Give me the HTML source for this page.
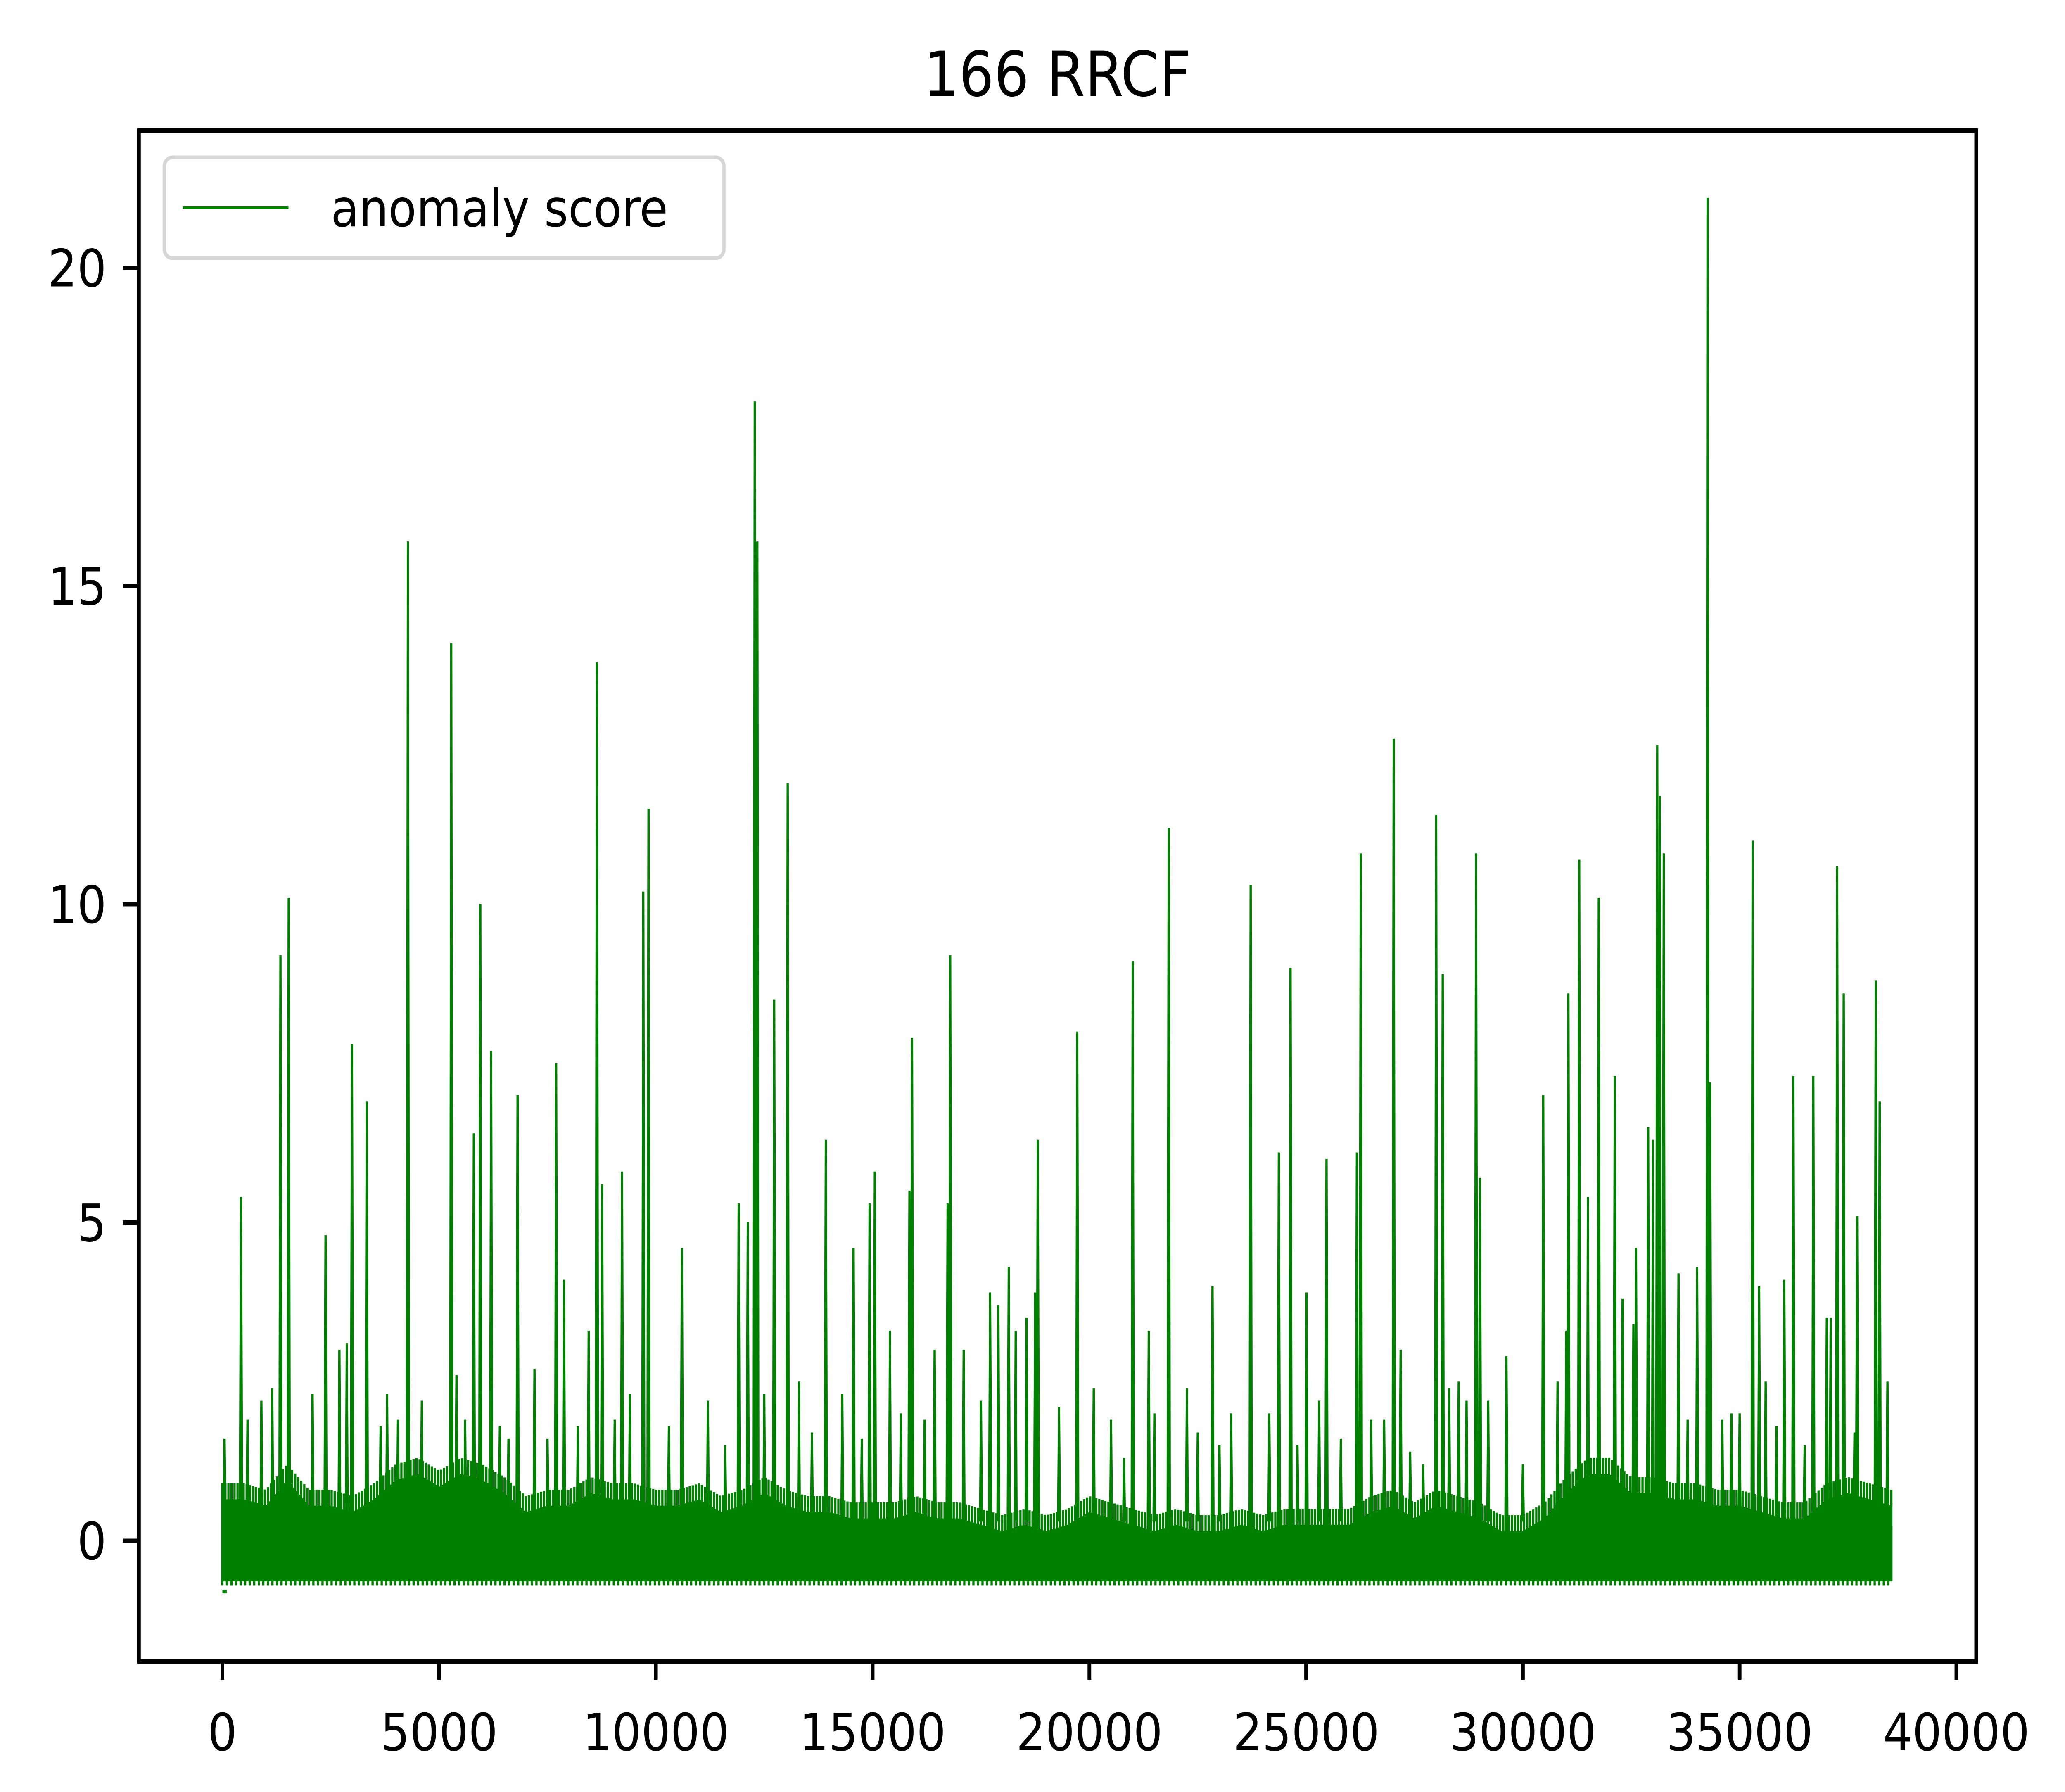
<!DOCTYPE html>
<html><head><meta charset="utf-8"><style>
html,body{margin:0;padding:0;background:#fff;overflow:hidden;width:100%;height:100%;}
svg{display:block;width:100vw;height:100vh;}
text{font-family:"DejaVu Sans","Liberation Sans",sans-serif;fill:#000;}
</style></head><body>
<svg id="chart" viewBox="0 0 5605 4339" preserveAspectRatio="none" xmlns="http://www.w3.org/2000/svg">
<rect x="0" y="0" width="5605" height="4339" fill="#fff"/>
<text x="2870" y="232" font-size="150" text-anchor="middle">166 RRCF</text>
<g id="plot"></g>
<g id="axes"></g>
<g>
<rect x="446" y="381" width="1519" height="244" rx="22" fill="#fff" fill-opacity="0.8" stroke="#d6d6d6" stroke-width="9"/>
<line x1="496" y1="503" x2="783" y2="503" stroke="#008000" stroke-width="6"/>
<text x="898" y="548" font-size="125">anomaly score</text>
</g>
</svg>
<script>
const xTicks = [0,5000,10000,15000,20000,25000,30000,35000,40000];
const yTicks = [0,5,10,15,20];
const spikeX = [50,430,1340,1530,2380,2990,3330,4280,5280,5800,5950,6200,6810,7700,7880,8640,8760,9220,9710,9830,10600,11910,12120,12280,12340,12730,13040,13920,14560,14930,15050,15850,15910,16430,16730,16790,17710,18140,18750,18810,19720,21000,21370,21830,22840,23270,23720,24370,24640,25010,25470,26170,26260,27020,27180,28000,28150,28520,28920,29010,29620,30470,31050,31300,31750,32120,32610,32890,33100,33160,33250,33590,34020,34260,34320,34810,35300,35450,36030,36240,36700,37010,37250,37400,37710,38140,38230,38410];
const spikeY = [1.6,5.4,9.2,10.1,4.8,7.8,6.9,15.7,14.1,6.4,10.0,7.7,7.0,7.5,4.1,13.8,5.6,5.8,10.2,11.5,4.6,5.3,5.0,17.9,15.7,8.5,11.9,6.3,4.6,5.3,5.8,5.5,7.9,3.0,5.3,9.2,3.9,4.3,3.9,6.3,8.0,9.1,3.3,11.2,4.0,2.0,10.3,6.1,9.0,3.9,6.0,6.1,10.8,12.6,3.0,11.4,8.9,2.5,10.8,5.7,2.9,7.0,8.6,10.7,10.1,7.3,4.6,6.5,12.5,11.7,10.8,4.2,4.3,21.1,7.2,2.0,11.0,4.0,4.1,7.3,7.3,3.5,10.6,8.6,5.1,8.8,6.9,2.5];
const midX = [580,900,1150,2080,2700,2870,3650,3800,4050,4600,5400,5600,6400,6600,7200,7500,8200,8450,9050,9400,10300,11200,11600,12500,13300,13600,14300,14750,15400,15650,16200,17100,17500,17900,18300,18550,19300,20100,20500,20800,21500,22250,22500,23000,24150,24800,25300,25800,26500,26800,27400,27700,28300,28700,29200,30000,30800,31000,31500,32300,32550,33000,33800,34600,35000,35600,35850,36500,37100,37650];
const midY = [1.9,2.2,2.4,2.3,3.0,3.1,1.8,2.3,1.9,2.2,2.6,1.9,1.8,1.6,2.7,1.6,1.8,3.3,1.9,2.3,1.8,2.2,1.5,2.3,2.5,1.7,2.3,1.6,3.3,2.0,1.9,3.0,2.2,3.7,3.3,3.5,2.1,2.4,1.9,1.3,2.0,2.4,1.7,1.5,2.0,1.5,2.2,1.6,1.9,1.9,1.4,1.2,2.4,2.2,2.2,1.2,2.5,3.3,5.4,3.8,3.4,6.3,1.9,1.9,2.0,2.5,1.8,1.5,3.5,1.7];
const bandX0 = 0, bandStep = 500;
const bandTop = [0.9,0.9,0.8,1.2,0.8,0.8,0.7,0.9,1.2,1.3,1.1,1.3,1.2,1.0,0.7,0.8,0.8,1.0,0.9,0.9,0.8,0.8,0.9,0.7,0.8,1.0,0.8,0.7,0.7,0.6,0.6,0.6,0.7,0.6,0.6,0.5,0.4,0.5,0.4,0.5,0.7,0.6,0.5,0.4,0.5,0.4,0.4,0.5,0.4,0.5,0.5,0.5,0.5,0.7,0.8,0.6,0.8,0.7,0.6,0.4,0.4,0.6,1.0,1.3,1.3,1.0,1.0,0.9,0.9,0.8,0.8,0.7,0.6,0.6,0.9,1.0,0.9,0.8];
const bandBottom = -0.7;

const NS = "http://www.w3.org/2000/svg";
const L=377,R=5364,T=316,B=4023;
function X(v){return 603.6+v*0.117665;}
function Y(v){return 3730.5-v*154.1;}
function mk(tag,attrs,parent){const e=document.createElementNS(NS,tag);for(const k in attrs)e.setAttribute(k,attrs[k]);parent.appendChild(e);return e;}

const plot=document.getElementById('plot');
const axes=document.getElementById('axes');
let pts=[];
for(let i=0;i<bandTop.length;i++){
  pts.push(X(bandX0+i*bandStep)+','+Y(bandTop[i]-0.6));
}
const lastX=bandX0+(bandTop.length-1)*bandStep;
pts.push(X(lastX)+','+Y(bandBottom+0.08));
pts.push(X(bandX0)+','+Y(bandBottom+0.08));
const band=mk('polygon',{points:pts.join(' '),fill:'#008000',stroke:'#008000','stroke-width':6},plot);


let d='';
let k=0;
for(let xv=bandX0; xv<=lastX; xv+=35){
  const i=Math.min(bandTop.length-2,Math.floor((xv-bandX0)/bandStep));
  const f=(xv-bandX0-i*bandStep)/bandStep;
  const top=bandTop[i]*(1-f)+bandTop[i+1]*f;
  const bot=(k%3===0)?bandBottom:bandBottom+0.08;
  d+='M'+X(xv)+' '+Y(bot)+'V'+Y(k%2===0?top:top-0.25);
  k++;
}
const hatch=mk('path',{d:d,stroke:'#008000','stroke-width':6,fill:'none'},plot);


const start=mk('line',{x1:X(0),y1:Y(-0.8),x2:X(100),y2:Y(-0.8),stroke:'#008000','stroke-width':8},plot);


for(let i=0;i<midX.length;i++){
  const xv=midX[i];
  const p=mk('polyline',{points:X(xv-20)+','+Y(0.3)+' '+X(xv)+','+Y(midY[i])+' '+X(xv+20)+','+Y(0.3),fill:'none',stroke:'#008000','stroke-width':6},plot);
  
  
}
for(let i=0;i<spikeX.length;i++){
  const xv=spikeX[i];
  const p=mk('polyline',{points:X(xv-25)+','+Y(0)+' '+X(xv)+','+Y(spikeY[i])+' '+X(xv+25)+','+Y(0),fill:'none',stroke:'#008000','stroke-width':6,'stroke-linejoin':'miter'},plot);
  
  
}
const fr=mk('rect',{x:L,y:T,width:R-L,height:B-T,fill:'none',stroke:'#000','stroke-width':10},axes);


xTicks.forEach(v=>{
  const t=mk('line',{x1:X(v),y1:B,x2:X(v),y2:B+44,stroke:'#000','stroke-width':10},axes);
  
  
  const tx=mk('text',{x:X(v),y:B+215,'font-size':125,'text-anchor':'middle'},axes);
  tx.textContent=v;
  
  
});
yTicks.forEach(v=>{
  const t=mk('line',{x1:L-44,y1:Y(v),x2:L,y2:Y(v),stroke:'#000','stroke-width':10},axes);
  
  
  const tx=mk('text',{x:L-88,y:Y(v)+45,'font-size':125,'text-anchor':'end'},axes);
  tx.textContent=v;
  
  
});
</script>
</body></html>
